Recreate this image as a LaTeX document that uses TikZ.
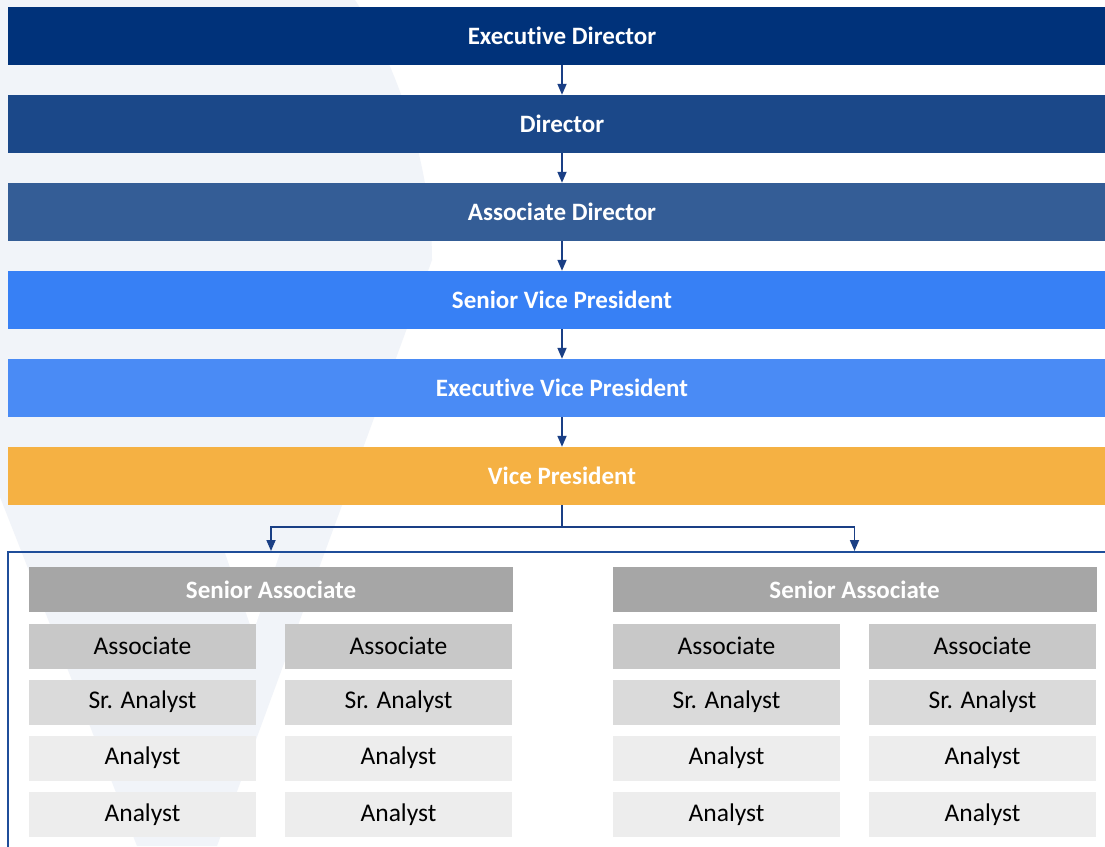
\documentclass[tikz,border=0pt]{standalone}
\usepackage{fontspec}
\setmainfont{Carlito}[Ligatures=NoCommon]
\usetikzlibrary{arrows.meta}
\definecolor{cED}{HTML}{00327A}
\definecolor{cDir}{HTML}{1B4889}
\definecolor{cAD}{HTML}{345D96}
\definecolor{cSVP}{HTML}{3780F5}
\definecolor{cEVP}{HTML}{4A8BF5}
\definecolor{cVP}{HTML}{F5B143}
\definecolor{cSA}{HTML}{A6A6A6}
\definecolor{cAs}{HTML}{C8C8C8}
\definecolor{cSr}{HTML}{DADADA}
\definecolor{cAn}{HTML}{EDEDED}
\definecolor{cLine}{HTML}{1A3F85}
\definecolor{cFrame}{HTML}{1F4E9A}
\definecolor{cWm}{HTML}{F1F4F9}
\newcommand{\lowtxt}[1]{\raisebox{-2.5pt}{#1}}
\tikzset{
  bar/.style={rectangle, inner sep=0pt, minimum width=1108pt, minimum height=58pt,
    text=white, font=\fontsize{25}{30}\selectfont\bfseries},
  sabox/.style={rectangle, inner sep=0pt, minimum width=484pt, minimum height=45pt,
    fill=cSA, text=white, font=\fontsize{25}{30}\selectfont\bfseries},
  subbox/.style={rectangle, inner sep=0pt, minimum width=227pt, minimum height=45pt,
    text=black, font=\fontsize{25.5}{30}\selectfont},
  arr/.style={draw=cLine, line width=1.7pt, -{Triangle[length=11pt,width=9pt]}},
  framebox/.style={draw=cFrame, line width=2pt, rectangle, inner sep=0pt}
}
\begin{document}
\begin{tikzpicture}[x=1pt,y=-1pt]
\useasboundingbox (0,0) rectangle (1105,846);
\clip (0,0) rectangle (1105,846);
\fill[white] (0,0) rectangle (1105,846);
% watermark
\fill[cWm] (0,0) -- (355,0) .. controls (400,70) and (432,170) .. (432,260)
  -- (217,846) -- (137,846) -- (0,497) -- cycle;
\fill[white] (225,553) -- (280,553) -- (253,633) -- cycle;
% bars
\node[bar, fill=cED]  (ed)  at (562,36)  {\raisebox{-1pt}{Executive Director}};
\node[bar, fill=cDir] (dir) at (562,124) {\raisebox{-1pt}{Director}};
\node[bar, fill=cAD]  (ad)  at (562,212) {\raisebox{-1pt}{Associate Director}};
\node[bar, fill=cSVP] (svp) at (562,300) {\raisebox{-1pt}{Senior Vice President}};
\node[bar, fill=cEVP] (evp) at (562,388) {Executive Vice President};
\node[bar, fill=cVP]  (vp)  at (562,476) {Vice President};
\draw[arr] (ed) -- (dir);
\draw[arr] (dir) -- (ad);
\draw[arr] (ad) -- (svp);
\draw[arr] (svp) -- (evp);
\draw[arr] (evp) -- (vp);
% frame
\node[framebox, minimum width=1120pt, minimum height=320pt, anchor=north west] (frame) at (7,551) {};
% senior associate groups
\node[sabox] (sa1) at (271,589.5) {Senior Associate};
\node[sabox] (sa2) at (854.5,589.5) {Senior Associate};
\coordinate (split) at (562,527);
\draw[arr] (vp.south) -- (split) -| (sa1.north |- frame.north);
\draw[arr] (split) -| (sa2.north |- frame.north);
% sub boxes
\foreach \cx/\nm in {142.5/a, 398.5/b, 726.5/c, 982.5/d}{
  \node[subbox, fill=cAs] (as\nm) at (\cx,646) {\lowtxt{Associate}};
  \node[subbox, fill=cSr] (sr\nm) at (\cx,702) {\lowtxt{Sr. Analyst}};
  \node[subbox, fill=cAn] (an\nm) at (\cx,758) {\lowtxt{Analyst}};
  \node[subbox, fill=cAn] (bn\nm) at (\cx,814.5) {\lowtxt{Analyst}};
}
\end{tikzpicture}
\end{document}
